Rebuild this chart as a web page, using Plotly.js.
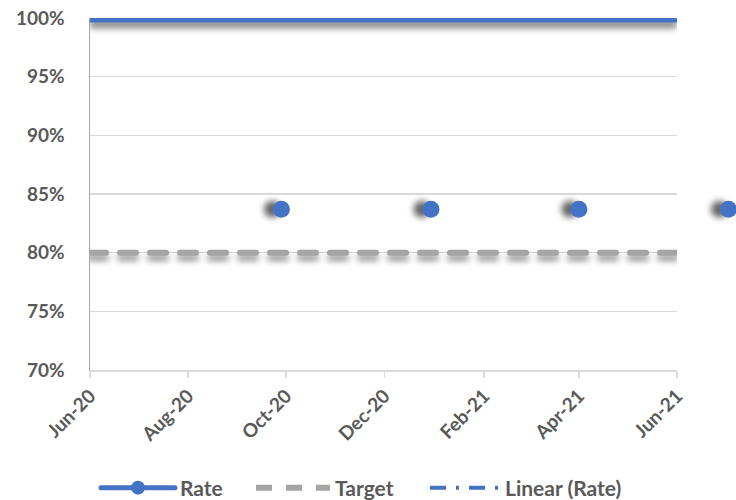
<!DOCTYPE html>
<html>
<head>
<meta charset="utf-8">
<script src="https://cdn.plot.ly/plotly-3.0.1.min.js"></script>
<style>
  html, body { margin: 0; padding: 0; background: #fff; }
  #chart { width: 736px; height: 500px; }
  .scatterlayer .tracetgt { filter: drop-shadow(0px 5px 3px rgba(0,0,0,0.45)); }
  .scatterlayer .tracetgt path.js-line { stroke-linecap: round; }
  .scatterlayer .tracerate { filter: drop-shadow(0px 6px 3px rgba(0,0,0,0.45)); }
  .scatterlayer .tracedots { filter: drop-shadow(-9px 0px 3px rgba(0,0,0,0.6)); }
  .legend .traces path.js-line { stroke-linecap: round; }
</style>
</head>
<body>
<div id="chart"></div>
<script>
// ---- data ----
var rateDates = ['2020-06-01','2020-07-01','2020-08-01','2020-09-01','2020-10-01','2020-11-01','2020-12-01',
                 '2021-01-01','2021-02-01','2021-03-01','2021-04-01','2021-05-01','2021-06-01'];
var rateValues = [1,1,1,1,1,1,1,1,1,1,1,1,1];
var trendValues = [1,1,1,1,1,1,1,1,1,1,1,1,1];
var targetValues = [0.8,0.8,0.8,0.8,0.8,0.8,0.8,0.8,0.8,0.8,0.8,0.8,0.8];
var pointDates = ['2020-09-28','2020-12-30','2021-04-01','2021-07-03'];
var pointValues = [0.837,0.837,0.837,0.837];
var seriesNames = ['Rate','Target','Linear (Rate)'];

// ---- layout geometry ----
var W = 736, L = 90, R = 0, plotRight = 677;
var paperW = W - L - R;
var mainFrac = (plotRight - L) / paperW;
var t0 = new Date('2020-06-01T00:00:00Z').getTime();
var t1 = new Date('2021-06-01T00:00:00Z').getTime();
var t2 = t0 + (t1 - t0) / mainFrac;

var blue = '#4472C4', gray = '#A5A5A5', txt = '#595959';
var fnt = 'Lato, "Open Sans", sans-serif';
var legFont = {family: fnt, size: 21, color: txt, weight: 'bold'};

var traces = [
  {x: rateDates, y: targetValues, name: seriesNames[1], uid: 'tgt', mode: 'lines', legend: 'legend2',
   line: {color: gray, width: 6, dash: '16px,14px'}, cliponaxis: false, hoverinfo: 'skip'},
  {x: rateDates, y: trendValues, name: seriesNames[2], uid: 'trend', mode: 'lines', legend: 'legend3',
   line: {color: blue, width: 4, dash: '16px,10px,3px,10px'}, cliponaxis: false, hoverinfo: 'skip'},
  {x: rateDates, y: rateValues, name: seriesNames[0], uid: 'rate', mode: 'lines',
   line: {color: blue, width: 9}, showlegend: false, cliponaxis: false, hoverinfo: 'skip'},
  {x: pointDates, y: pointValues, name: seriesNames[0], uid: 'dots', mode: 'markers',
   xaxis: 'x2', yaxis: 'y2',
   marker: {color: blue, size: 17}, showlegend: false, cliponaxis: false, hoverinfo: 'skip'},
  {x: [null], y: [null], name: seriesNames[0], uid: 'leg', mode: 'lines+markers', legend: 'legend',
   line: {color: blue, width: 5}, marker: {color: blue, size: 14}}
];

function leg(xpx, iw) {
  return {orientation: 'h', xref: 'container', yref: 'container',
          x: xpx / W, xanchor: 'left', y: 0.024, yanchor: 'middle',
          font: legFont, itemwidth: iw, bgcolor: 'rgba(0,0,0,0)'};
}

var layout = {
  width: 736, height: 500,
  margin: {l: L, r: R, t: 18, b: 130},
  paper_bgcolor: '#fff', plot_bgcolor: 'rgba(0,0,0,0)',
  font: {family: fnt, color: txt, size: 16},
  showlegend: true,
  legend: leg(96, 74),
  legend2: leg(251, 74),
  legend3: leg(425, 70),
  xaxis: {
    type: 'date', domain: [0, mainFrac], automargin: false,
    range: ['2020-06-01', '2021-06-01'],
    tick0: '2020-06-01', dtick: 'M2', tickformat: '%b-%y',
    tickangle: -45, ticks: 'outside', ticklen: 6, tickcolor: '#D9D9D9', tickwidth: 1.5,
    showline: true, linecolor: '#D9D9D9', linewidth: 1.5,
    showgrid: false, zeroline: false,
    tickfont: {family: fnt, size: 19, color: txt, weight: 'bold'}
  },
  yaxis: {
    range: [0.7, 1.0], dtick: 0.05, tickformat: '.0%', automargin: false,
    showline: true, linecolor: '#A6A6A6', linewidth: 1.5,
    showgrid: true, gridcolor: '#D9D9D9', gridwidth: 1.5, zeroline: false,
    ticks: '', ticklen: 0, ticklabelstandoff: 20,
    tickfont: {family: fnt, size: 19, color: txt, weight: 'bold'}
  },
  xaxis2: {type: 'date', domain: [0, 1], range: [t0, t2], visible: false, anchor: 'y2', automargin: false},
  yaxis2: {range: [0.7, 1.0], visible: false, anchor: 'x2', automargin: false}
};

Plotly.newPlot('chart', traces, layout, {displayModeBar: false, staticPlot: true});
</script>
</body>
</html>
